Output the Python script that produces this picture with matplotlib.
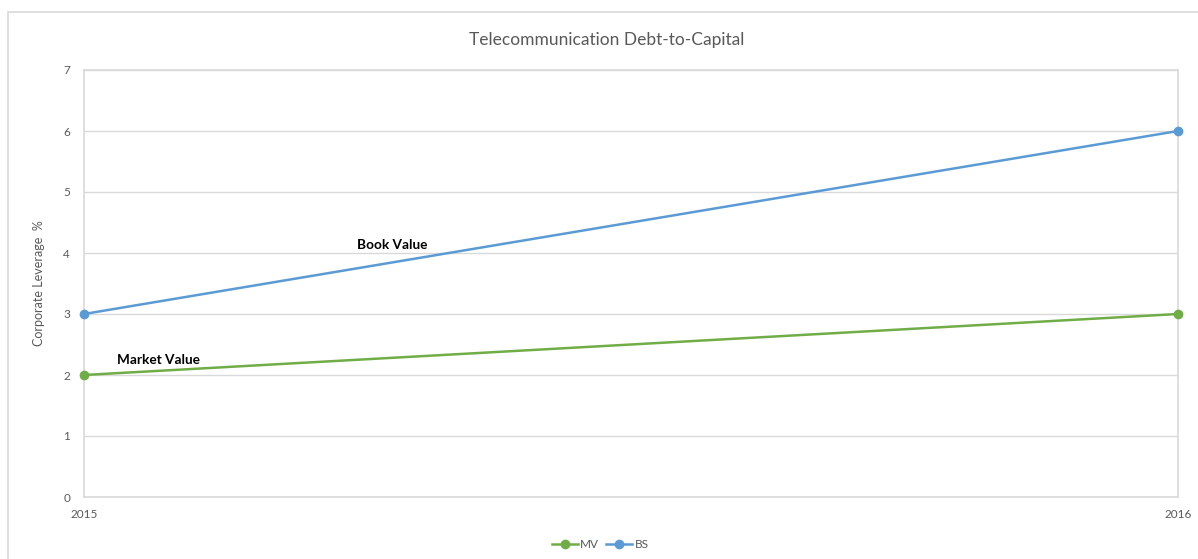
import matplotlib
matplotlib.use("Agg")
import matplotlib.pyplot as plt
from matplotlib.patches import Rectangle

# Data
years = [2015, 2016]
mv = [2, 3]   # market value
bs = [3, 6]   # book value (balance sheet)
title = "Telecommunication Debt-to-Capital"
ylabel = "Corporate Leverage  %"

plt.rcParams['font.family'] = ['Lato', 'DejaVu Sans']
TXT = '#595959'
GRID = '#D9D9D9'
GREEN = '#70AD47'
BLUE = '#5B9BD5'

W, H = 1198, 559
fig = plt.figure(figsize=(W / 100, H / 100), dpi=100)
fig.patch.set_facecolor('white')

# chart-area frame
fig.patches.append(Rectangle((8 / W, -0.05), 1.2, 1 - 12 / H + 0.05,
                             transform=fig.transFigure, fill=False,
                             edgecolor=GRID, linewidth=1.2, zorder=0))

ax = fig.add_axes([84 / W, 1 - 497 / H, (1178 - 84) / W, (497 - 70) / H])
ax.plot(years, mv, color=GREEN, lw=1.8, marker='o', ms=6, label='MV',
        clip_on=False, zorder=3)
ax.plot(years, bs, color=BLUE, lw=1.8, marker='o', ms=6, label='BS',
        clip_on=False, zorder=3)

ax.set_xlim(2015, 2016)
ax.set_ylim(0, 7)
ax.set_yticks(range(0, 8))
ax.set_xticks(years)
ax.set_xticklabels([str(y) for y in years])
ax.grid(axis='y', color=GRID, lw=1)
ax.set_axisbelow(True)
for s in ax.spines.values():
    s.set_color(GRID)
    s.set_linewidth(1.2)
ax.tick_params(length=0, colors=TXT, labelsize=8.5)
ax.tick_params(axis='y', pad=10)
ax.tick_params(axis='x', pad=9)

ax.set_ylabel(ylabel, color=TXT, fontsize=9, labelpad=13)
fig.text(607 / W, 1 - 40 / H, title, ha='center', va='center',
         color=TXT, fontsize=12.5)

ax.text(2015.282, 4.13, 'Book Value', ha='center', va='center',
        fontsize=9.8, fontweight='bold', color='black')
ax.text(2015.068, 2.25, 'Market Value', ha='center', va='center',
        fontsize=9.8, fontweight='bold', color='black')

leg = fig.legend(loc='center', bbox_to_anchor=(600 / W, 1 - 545 / H),
                 ncol=2, frameon=False, fontsize=8.5, handlelength=2.2,
                 columnspacing=0.6, handletextpad=0.2, markerscale=1)
for t in leg.get_texts():
    t.set_color(TXT)

fig.savefig('out.png', dpi=100)
